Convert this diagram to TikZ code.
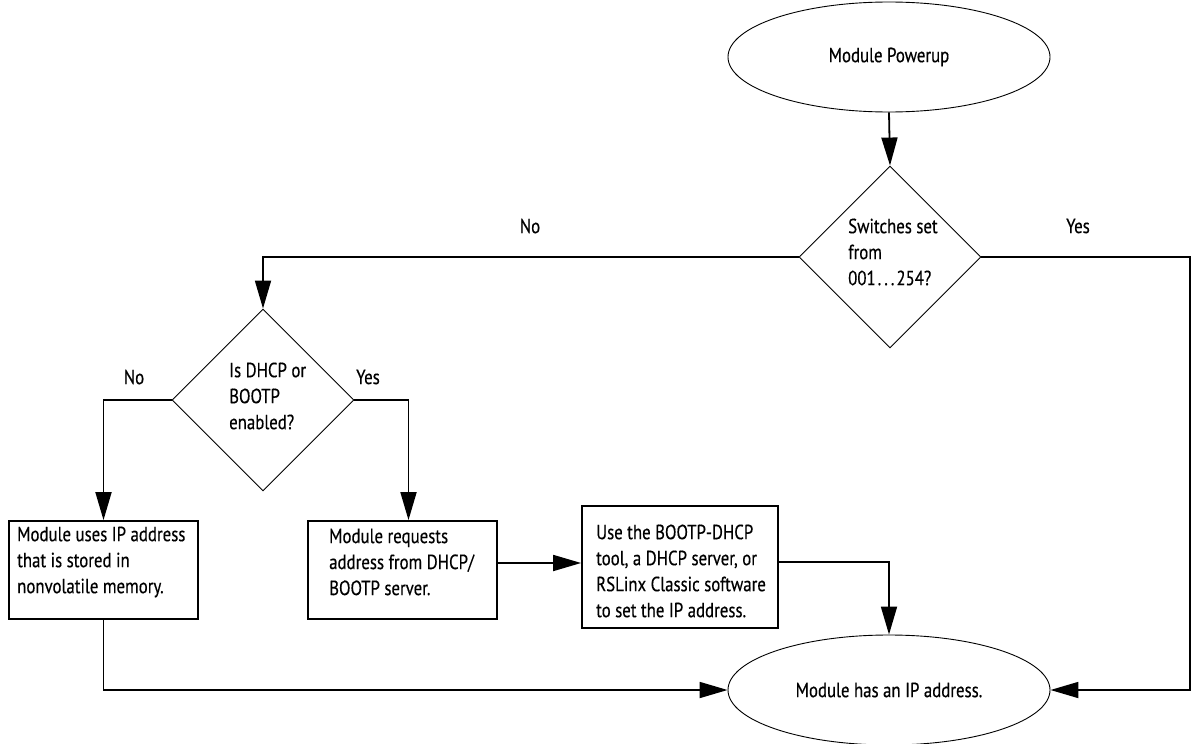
\documentclass[tikz,border=0pt]{standalone}
\usepackage{fontspec}
\setmainfont{PT Sans}[FakeStretch=0.82,FakeBold=0.4]
\usetikzlibrary{shapes.geometric,arrows.meta}
\begin{document}
\begin{tikzpicture}[x=1pt,y=-1pt,
  txt/.style={font=\fontsize{20.5}{26}\selectfont, align=left, inner sep=0pt},
  oval/.style={ellipse, draw, line width=0.9pt, minimum width=322pt, minimum height=110pt, inner sep=0pt, font=\fontsize{20.5}{26}\selectfont},
  dia/.style={diamond, draw, line width=0.9pt, minimum width=182pt, minimum height=182pt, inner sep=0pt},
  boxx/.style={rectangle, draw, line width=1.8pt, inner sep=0pt},
  arr/.style={line width=1.8pt, -{Triangle[length=28pt,width=16pt]}},
  ln/.style={line width=1.8pt}
]
\useasboundingbox (0,0) rectangle (1192,744);

% shapes
\node[oval] (pow) at (889,57) {Module Powerup};
\node[dia] (d1) at (890,257) {};
\node[txt, anchor=west] (d1t) at (848,252) {Switches set\\from\\001\kern2pt.\kern3pt.\kern3pt.\kern2pt254?};
\node[dia] (d2) at (263,400) {};
\node[txt, anchor=west] (d2t) at (229,396) {Is DHCP or\\BOOTP\\enabled?};

\node[boxx, minimum width=189pt, minimum height=98pt] (b1) at (103.5,570) {};
\node[txt, anchor=west] (b1t) at (17,562) {Module uses IP address\\that is stored in\\nonvolatile memory.};
\node[boxx, minimum width=189pt, minimum height=98pt] (b2) at (402.5,570) {};
\node[txt, anchor=west] (b2t) at (329,562) {Module requests\\address from DHCP/\\BOOTP server.};
\node[boxx, minimum width=196pt, minimum height=122pt] (b3) at (680,567) {};
\node[txt, anchor=west] (b3t) at (596,571) {Use the BOOTP-DHCP\\tool, a DHCP server, or\\RSLinx Classic software\\to set the IP address.};

\node[oval] (ip) at (889,690) {Module has an IP address.};

% labels
\node[txt] (lno1) at (530,226) {No};
\node[txt] (lyes1) at (1078,226) {Yes};
\node[txt] (lno2) at (134,377) {No};
\node[txt] (lyes2) at (368,377) {Yes};

% connectors
\coordinate (re) at (1190,257);
\draw[arr] (pow.south) -- (d1.north);
\draw[arr] (d1.west) -| (d2.north);
\draw[arr] (d1.east) -- (re) |- (ip.east);
\draw[arr] (d2.west) -| (b1.north);
\draw[arr] (d2.east) -| ([xshift=6pt]b2.north);
\draw[arr] (b2.east |- 0,563) -- (b3.west |- 0,563);
\draw[arr] (b3.east |- 0,562) -| (ip.north);
\draw[arr] (b1.south) |- (ip.west);
\end{tikzpicture}
\end{document}
